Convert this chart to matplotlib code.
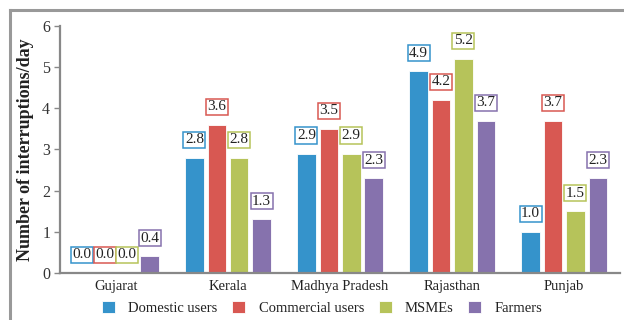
import matplotlib
matplotlib.use("Agg")
import matplotlib.pyplot as plt
import numpy as np
from matplotlib.lines import Line2D

states = ["Gujarat", "Kerala", "Madhya Pradesh", "Rajasthan", "Punjab"]
series_names = ["Domestic users", "Commercial users", "MSMEs", "Farmers"]
domestic = [0.0, 2.8, 2.9, 4.9, 1.0]
commercial = [0.0, 3.6, 3.5, 4.2, 3.7]
msmes = [0.0, 2.8, 2.9, 5.2, 1.5]
farmers = [0.4, 1.3, 2.3, 3.7, 2.3]
y_ticks = [0, 1, 2, 3, 4, 5, 6]

colors = ["#3593CB", "#D85852", "#B6C35A", "#8672AD"]
values = [domestic, commercial, msmes, farmers]

plt.rcParams["font.family"] = ["Liberation Serif", "DejaVu Serif"]

fig = plt.figure(figsize=(6.24, 3.2), dpi=100)
ax = fig.add_axes([0.096, 0.147, 0.898, 0.772])

x = np.arange(len(states))
pitch = 0.2
width = 0.165
for i, (vals, col, name) in enumerate(zip(values, colors, series_names)):
    pos = x + (i - 1.5) * pitch
    ax.bar(pos, vals, width, color=col, edgecolor="#ffffff", linewidth=0.6,
           label=name, zorder=2)
    for px, v in zip(pos, vals):
        ax.annotate(f"{v:.1f}", xy=(px, v), xytext=(0, 13),
                    textcoords="offset points", ha="center", va="center",
                    fontsize=11, color="#222222", zorder=3,
                    bbox=dict(boxstyle="square,pad=0.1", fc="white",
                              ec=col, lw=1.1))

ax.set_xlim(-0.5, 4.5)
ax.set_ylim(0, 6)
ax.set_yticks(y_ticks)
ax.set_yticklabels([str(t) for t in y_ticks], fontsize=11.5, color="#333333")
ax.set_xticks(x)
ax.set_xticklabels(states, fontsize=10.5, color="#222222")
ax.tick_params(axis="x", length=0, pad=5)
ax.tick_params(axis="y", length=4, width=1, color="#888888", pad=3)
ax.set_ylabel("Number of interruptions/day", fontsize=13, fontweight="bold",
              color="#222222", labelpad=6)

for side in ["top", "right"]:
    ax.spines[side].set_visible(False)
for side in ["left", "bottom"]:
    ax.spines[side].set_color("#888888")
    ax.spines[side].set_linewidth(1.6)

leg = ax.legend(loc="center", bbox_to_anchor=(0.468, -0.14), ncol=4,
                frameon=False, fontsize=10.5, handlelength=0.9,
                handleheight=0.9, handletextpad=0.9, columnspacing=1.0,
                borderpad=0)
for t in leg.get_texts():
    t.set_color("#222222")

# outer frame lines (top and left)
fx = 9.5 / 624
fy = 1 - 9.5 / 320
fig.add_artist(Line2D([fx, 1], [fy, fy], transform=fig.transFigure,
                      color="#999999", lw=2.2))
fig.add_artist(Line2D([fx, fx], [0, fy], transform=fig.transFigure,
                      color="#999999", lw=2.2))

fig.savefig("out.png", dpi=100)
